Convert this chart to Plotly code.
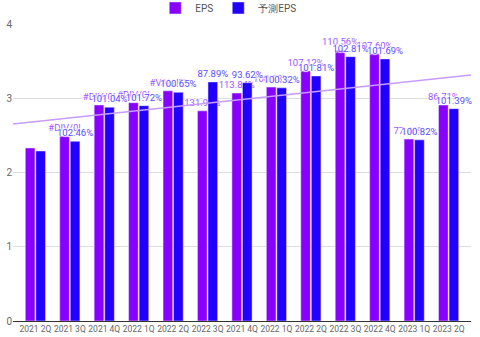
import numpy as np
import plotly.graph_objects as go

labels = ["2021 2Q", "2021 3Q", "2021 4Q", "2022 1Q", "2022 2Q", "2022 3Q", "2021 4Q",
          "2022 1Q", "2022 2Q", "2022 3Q", "2022 4Q", "2023 1Q", "2023 2Q"]
eps = [2.33, 2.49, 2.91, 2.94, 3.10, 2.83, 3.07, 3.15, 3.37, 3.65, 3.60, 2.45, 2.91]
pred_eps = [2.29, 2.42, 2.88, 2.90, 3.08, 3.22, 3.21, 3.14, 3.30, 3.56, 3.53, 2.44, 2.86]
eps_text = ["", "#DIV/0!", "#DIV/0!", "#DIV/0!", "#VALUE!", "131.97%", "113.84%",
            "100.53%", "107.12%", "110.56%", "107.60%", "77.46%", "86.71%"]
pred_text = ["", "102.46%", "101.04%", "101.72%", "100.65%", "87.89%", "93.62%",
             "100.32%", "101.81%", "102.81%", "101.69%", "100.82%", "101.39%"]

x = list(range(len(labels)))
halo = "1px 1px 1px #fff, -1px -1px 1px #fff, 1px -1px 1px #fff, -1px 1px 1px #fff"

fig = go.Figure()
fig.add_trace(go.Bar(
    x=x, y=eps, name="EPS", marker_color="#8800ff",
    text=eps_text, textposition="outside", cliponaxis=False, constraintext="none",
    textfont=dict(size=9.5, color="#9d55ff", family="Roboto", shadow=halo),
))
fig.add_trace(go.Bar(
    x=x, y=pred_eps, name="予測EPS", marker_color="#2200ff",
    text=pred_text, textposition="outside", cliponaxis=False, constraintext="none",
    textfont=dict(size=9.5, color="#5a4dff", family="Roboto", shadow=halo),
))

# linear trendline of EPS across full plot width
xr = [-0.65, 12.65]
coef = np.polyfit(x, eps, 1)
fig.add_trace(go.Scatter(
    x=xr, y=[coef[0] * v + coef[1] for v in xr], mode="lines",
    line=dict(color="#c79bff", width=1.5), showlegend=False, hoverinfo="skip",
))

fig.update_layout(
    width=480, height=337,
    margin=dict(l=13, r=9, t=24, b=16, autoexpand=False),
    paper_bgcolor="white", plot_bgcolor="white",
    barmode="group", bargap=0.39, bargroupgap=0.08,
    font=dict(family="Roboto", size=10, color="#666"),
    legend=dict(orientation="h", x=0.47, xanchor="center", y=1.054, yanchor="middle",
                font=dict(size=10, color="#555"), itemwidth=30, traceorder="normal"),
    xaxis=dict(tickmode="array", tickvals=x, ticktext=labels, range=xr,
               showgrid=False, showline=True, linecolor="#333", linewidth=1,
               ticks="", tickangle=0, automargin=False,
               tickfont=dict(size=8.5, color="#666"), zeroline=False),
    yaxis=dict(range=[0, 4], tickvals=[0, 1, 2, 3, 4], showgrid=True, gridcolor="#dddddd",
               zeroline=False, showline=False, ticks="", automargin=False,
               tickfont=dict(size=10, color="#666")),
)
fig.write_html("out.html")
